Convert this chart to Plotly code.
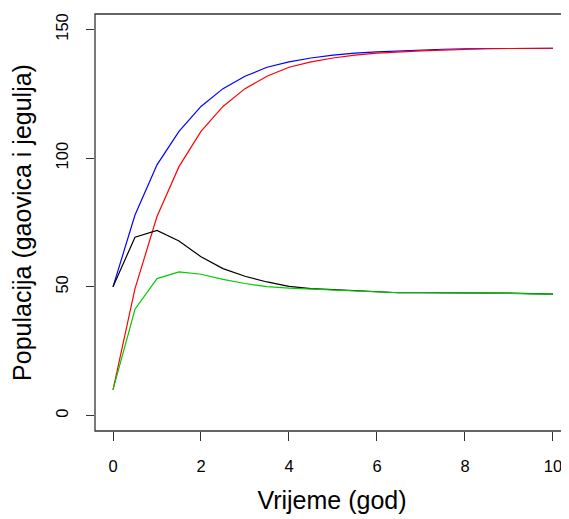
import plotly.graph_objects as go

# time in years, sampled every half year
vrijeme = [0, 0.5, 1, 1.5, 2, 2.5, 3, 3.5, 4, 4.5, 5, 5.5, 6, 6.5, 7, 7.5, 8, 8.5, 9, 9.5, 10]

plava = [50, 77.9, 97.4, 110.4, 120.1, 127, 131.8, 135.3, 137.4, 138.9, 140, 140.8, 141.3,
         141.7, 142.0, 142.3, 142.5, 142.6, 142.7, 142.7, 142.7]
crvena = [10, 49.3, 77.3, 96.7, 110.4, 120.1, 127, 131.8, 135.3, 137.4, 138.9, 140, 140.8,
          141.3, 141.7, 142.0, 142.3, 142.5, 142.6, 142.7, 142.7]
crna = [50, 69.3, 71.9, 67.8, 61.7, 57.1, 54.1, 51.9, 50.2, 49.3, 48.9, 48.5, 48.0,
        47.7, 47.7, 47.7, 47.7, 47.7, 47.6, 47.4, 47.2]
zelena = [10, 41.3, 53.2, 55.8, 54.9, 52.9, 51.3, 50.1, 49.5, 49.1, 48.7, 48.3, 48.0,
          47.7, 47.7, 47.7, 47.7, 47.6, 47.5, 47.3, 47.2]

x_ticks = [0, 2, 4, 6, 8, 10]
y_ticks = [0, 50, 100, 150]

fig = go.Figure()

for serija, boja in [(plava, "#0000FF"), (crvena, "#FF0000"),
                     (crna, "#000000"), (zelena, "#00CD00")]:
    fig.add_trace(go.Scatter(
        x=vrijeme, y=serija, mode="lines",
        line=dict(color=boja, width=1.2),
        showlegend=False, hoverinfo="skip",
    ))

# R-style box around the plot region (right side runs off the page)
fig.add_shape(type="rect", xref="paper", yref="paper",
              x0=0, x1=1.01, y0=0, y1=1,
              line=dict(color="#333333", width=1.3))

fig.update_xaxes(
    range=[-0.409, 10.364], tickvals=x_ticks, ticks="outside", ticklen=9,
    tickcolor="#333333", tickwidth=1, showgrid=False, zeroline=False,
    showline=False, ticklabelstandoff=11, automargin=False,
    tickfont=dict(family="Liberation Sans, Arial", size=16.5, color="black"),
    title=dict(text="Vrijeme (god)", standoff=17,
               font=dict(family="Liberation Sans, Arial", size=25, color="black")),
)
fig.update_yaxes(
    range=[-6, 156], tickvals=y_ticks, ticks="outside", ticklen=8,
    tickcolor="#333333", tickwidth=1, showgrid=False, zeroline=False,
    showline=False, tickangle=-90, ticklabelstandoff=11, automargin=False,
    tickfont=dict(family="Liberation Sans, Arial", size=16.5, color="black"),
    title=dict(text="Populacija (gaovica i jegulja)", standoff=16,
               font=dict(family="Liberation Sans, Arial", size=25, color="black")),
)

# the page body adds 8px around the figure, so the figure is 8px smaller
fig.update_layout(
    width=561, height=511,
    margin=dict(l=87, r=0, t=6, b=88),
    paper_bgcolor="white", plot_bgcolor="white",
)

fig.write_html("out.html")
